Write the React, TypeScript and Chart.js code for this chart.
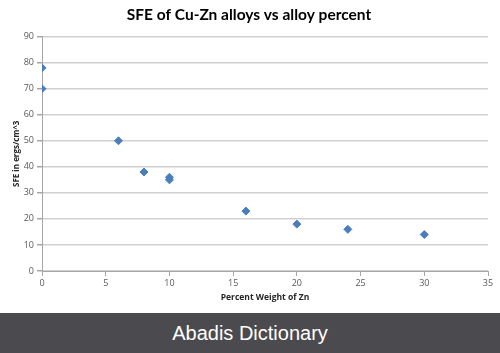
import React, { useEffect, useRef } from "react";
import { Chart, registerables } from "chart.js";

Chart.register(...registerables);

const zincPercent = [0, 0, 6, 8, 10, 10, 16, 20, 24, 30];
const sfeValues = [78, 70, 50, 38, 36, 35, 23, 18, 16, 14];
const chartTitle = "SFE of Cu-Zn alloys vs alloy percent";
const xTitle = "Percent Weight of Zn";
const yTitle = "SFE in ergs/cm^3";
const bannerText = "Abadis Dictionary";

export default function App() {
  const ref = useRef<HTMLCanvasElement | null>(null);

  useEffect(() => {
    if (!ref.current) return;
    const data = zincPercent.map((x, i) => ({ x, y: sfeValues[i] }));
    const chart = new Chart(ref.current, {
      type: "scatter",
      data: {
        datasets: [
          {
            data,
            backgroundColor: "#4a7ebb",
            borderColor: "#4a7ebb",
            pointStyle: "rectRot",
            pointRadius: 4,
            pointHoverRadius: 4,
          },
        ],
      },
      options: {
        animation: false,
        responsive: false,
        maintainAspectRatio: false,
        layout: { padding: { left: 10, right: 12, top: 0, bottom: 10 } },
        plugins: {
          legend: { display: false },
          tooltip: { enabled: false },
          title: {
            display: true,
            text: chartTitle,
            color: "#000000",
            font: { family: "Lato, 'Open Sans', sans-serif", size: 15.5, weight: "bold" },
            padding: { top: 6, bottom: 12 },
          },
        },
        scales: {
          x: {
            type: "linear",
            min: 0,
            max: 35,
            ticks: {
              stepSize: 5,
              color: "#595959",
              font: { family: "'Open Sans', sans-serif", size: 9 },
              padding: 2,
            },
            grid: {
              drawOnChartArea: false,
              drawTicks: true,
              tickLength: 5,
              color: "#a6a6a6",
            },
            border: { color: "#a6a6a6", width: 1 },
            title: {
              display: true,
              text: xTitle,
              color: "#262626",
              font: { family: "'Open Sans', sans-serif", size: 8.5, weight: "bold" },
              padding: { top: 2, bottom: 0 },
            },
            afterFit: (s: any) => {
              s.height = 32;
            },
          },
          y: {
            min: 0,
            max: 90,
            ticks: {
              stepSize: 10,
              color: "#595959",
              font: { family: "'Open Sans', sans-serif", size: 9 },
              padding: 3,
            },
            grid: {
              color: "#d0d0d0",
              lineWidth: 1.5,
              tickLength: 5,
              tickColor: "#a6a6a6",
            },
            border: { color: "#a6a6a6", width: 1 },
            title: {
              display: true,
              text: yTitle,
              color: "#262626",
              font: { family: "'Open Sans', sans-serif", size: 8, weight: "bold" },
              padding: { top: 2, bottom: 2 },
            },
            afterFit: (s: any) => {
              s.width = 32;
            },
          },
        },
      },
    });
    return () => chart.destroy();
  }, []);

  return (
    <div
      style={{
        position: "fixed",
        left: 0,
        top: 0,
        width: 500,
        height: 353,
        background: "#ffffff",
        overflow: "hidden",
      }}
    >
      <canvas ref={ref} width={500} height={313} style={{ display: "block" }} />
      <div
        style={{
          position: "absolute",
          left: 0,
          top: 313,
          width: 500,
          height: 40,
          background: "#4b4a4e",
          color: "#ffffff",
          fontFamily: "'Liberation Sans', Arial, sans-serif",
          fontSize: 20,
          lineHeight: "40px",
          textAlign: "center",
        }}
      >
        {bannerText}
      </div>
    </div>
  );
}
